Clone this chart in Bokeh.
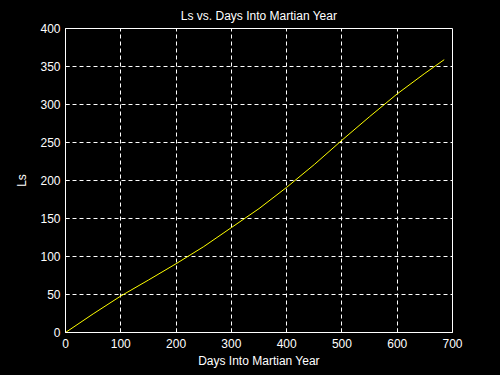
from bokeh.plotting import figure
from bokeh.embed import file_html
from bokeh.resources import INLINE
from bokeh.models import FixedTicker

# Data
days = [0, 50, 100, 150, 200, 250, 300, 350, 400, 450, 500, 550, 600, 650, 685]
ls = [0, 24.5, 48, 69, 90.5, 113, 138, 163, 191, 221, 253, 284, 314, 341, 359]
x_ticks = [0, 100, 200, 300, 400, 500, 600, 700]
y_ticks = [0, 50, 100, 150, 200, 250, 300, 350, 400]
title_text = "Ls vs. Days Into Martian Year"
x_label = "Days Into Martian Year"
y_label = "Ls"

FONT = "Liberation Sans"
FS = "12px"

p = figure(width=500, height=375, x_range=(0, 700), y_range=(0, 400),
           output_backend="svg", toolbar_location=None,
           min_border_left=65, min_border_right=48,
           min_border_top=28, min_border_bottom=43)

p.background_fill_color = "black"
p.border_fill_color = "black"
p.outline_line_color = "white"
p.outline_line_width = 1

p.title.text = title_text
p.title.text_color = "white"
p.title.text_font = FONT
p.title.text_font_size = FS
p.title.text_font_style = "normal"
p.title.align = "center"
p.title.offset = 0
p.title.standoff = 11

for ax in (p.xaxis[0], p.yaxis[0]):
    ax.axis_line_color = "white"
    ax.major_tick_line_color = "white"
    ax.major_tick_in = 4
    ax.major_tick_out = 0
    ax.minor_tick_line_color = None
    ax.major_label_text_color = "white"
    ax.major_label_text_font = FONT
    ax.major_label_text_font_size = FS
    ax.axis_label_text_color = "white"
    ax.axis_label_text_font = FONT
    ax.axis_label_text_font_size = FS
    ax.axis_label_text_font_style = "normal"

p.xaxis.ticker = FixedTicker(ticks=x_ticks)
p.yaxis.ticker = FixedTicker(ticks=y_ticks)
p.xaxis.axis_label = x_label
p.yaxis.axis_label = y_label
p.xaxis.major_label_standoff = 6
p.yaxis.major_label_standoff = 5
p.xaxis.axis_label_standoff = 3
p.yaxis.axis_label_standoff = 8

p.xgrid.grid_line_color = "white"
p.ygrid.grid_line_color = "white"
p.xgrid.grid_line_dash = "4 3"
p.ygrid.grid_line_dash = "4 3"
p.xgrid.grid_line_width = 1
p.ygrid.grid_line_width = 1

p.line(days, ls, line_color="#ffff00", line_width=1)

html = file_html(p, INLINE)
html = html.replace("<head>", "<head><style>html,body{background:#000;}</style>", 1)
open("out.html", "w").write(html)
